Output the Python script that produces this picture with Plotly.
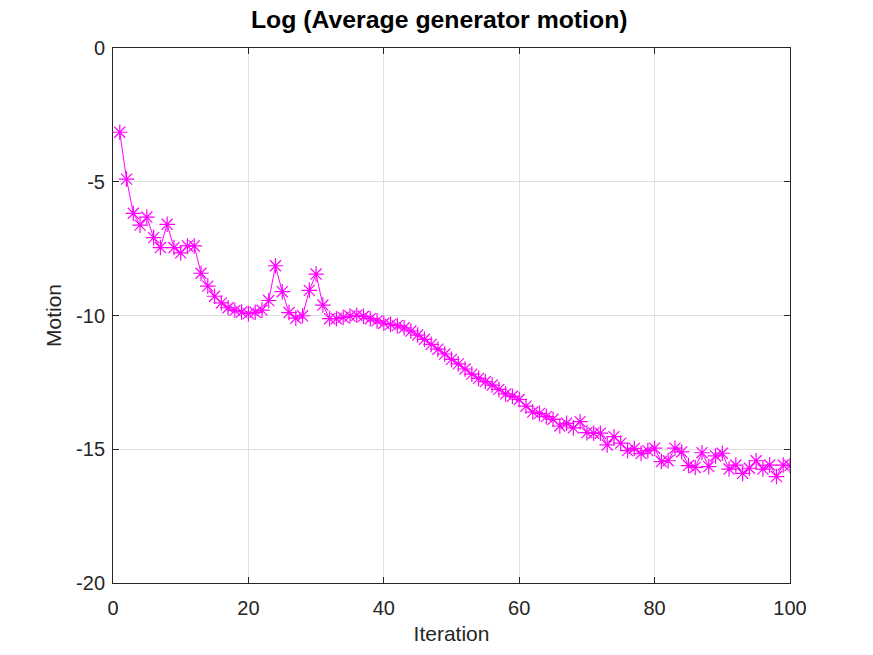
import plotly.graph_objects as go

iterations = list(range(1, 101))
motion = [
    -3.15, -4.90, -6.18, -6.62, -6.32, -7.09, -7.46, -6.59, -7.46, -7.66,
    -7.40, -7.40, -8.42, -8.90, -9.28, -9.53, -9.71, -9.81, -9.87, -9.93,
    -9.88, -9.80, -9.44, -8.14, -9.11, -9.89, -10.10, -10.01, -9.06, -8.45,
    -9.61, -10.12, -10.12, -10.07, -10.02, -9.99, -10.03, -10.12, -10.20, -10.29,
    -10.33, -10.38, -10.46, -10.58, -10.73, -10.89, -11.08, -11.26, -11.44, -11.64,
    -11.81, -12.00, -12.19, -12.35, -12.47, -12.60, -12.76, -12.93, -13.02, -13.14,
    -13.39, -13.61, -13.66, -13.78, -13.88, -14.13, -14.03, -14.20, -13.97, -14.38,
    -14.40, -14.40, -14.84, -14.53, -14.77, -15.05, -14.97, -15.16, -15.05, -14.96,
    -15.46, -15.43, -14.96, -15.10, -15.61, -15.68, -15.13, -15.65, -15.25, -15.15,
    -15.74, -15.59, -15.90, -15.71, -15.43, -15.74, -15.59, -16.02, -15.59, -15.61,
]
x_ticks = [0, 20, 40, 60, 80, 100]
y_ticks = [0, -5, -10, -15, -20]
y_tick_labels = ["0", "-5", "-10", "-15", "-20"]

FONT = "Liberation Sans, Arial, Helvetica, sans-serif"

fig = go.Figure()
fig.add_trace(go.Scatter(
    x=iterations, y=motion, mode="lines+markers",
    line=dict(color="#ff00ff", width=1),
    marker=dict(symbol="asterisk-open", size=13, color="#ff00ff",
                line=dict(color="#ff00ff", width=1.2)),
    showlegend=False,
))

axis_common = dict(
    showline=True, linecolor="#262626", linewidth=1, mirror="ticks",
    ticks="inside", ticklen=6, tickcolor="#262626",
    showgrid=True, gridcolor="#e0e0e0", gridwidth=1,
    zeroline=False,
    tickfont=dict(family=FONT, size=20, color="#262626"),
)

fig.update_layout(
    width=873, height=655,
    paper_bgcolor="white", plot_bgcolor="white",
    margin=dict(l=105, r=91, t=40, b=80),
    title=dict(text="<b>Log (Average generator motion)</b>", x=0.494, xref="container",
               xanchor="center", y=0.996, yref="container", yanchor="top",
               pad=dict(t=0, b=0),
               font=dict(family=FONT, size=24.8, color="black")),
    xaxis=dict(range=[0, 100], tickvals=x_ticks, ticklabelstandoff=7,
               title=dict(text="Iteration", standoff=8,
                          font=dict(family=FONT, size=21, color="#262626")),
               **axis_common),
    yaxis=dict(range=[-20, 0], tickvals=y_ticks, ticktext=y_tick_labels,
               ticklabelstandoff=3,
               title=dict(text="Motion", standoff=8,
                          font=dict(family=FONT, size=21, color="#262626")),
               **axis_common),
)

fig.write_html("out.html")
